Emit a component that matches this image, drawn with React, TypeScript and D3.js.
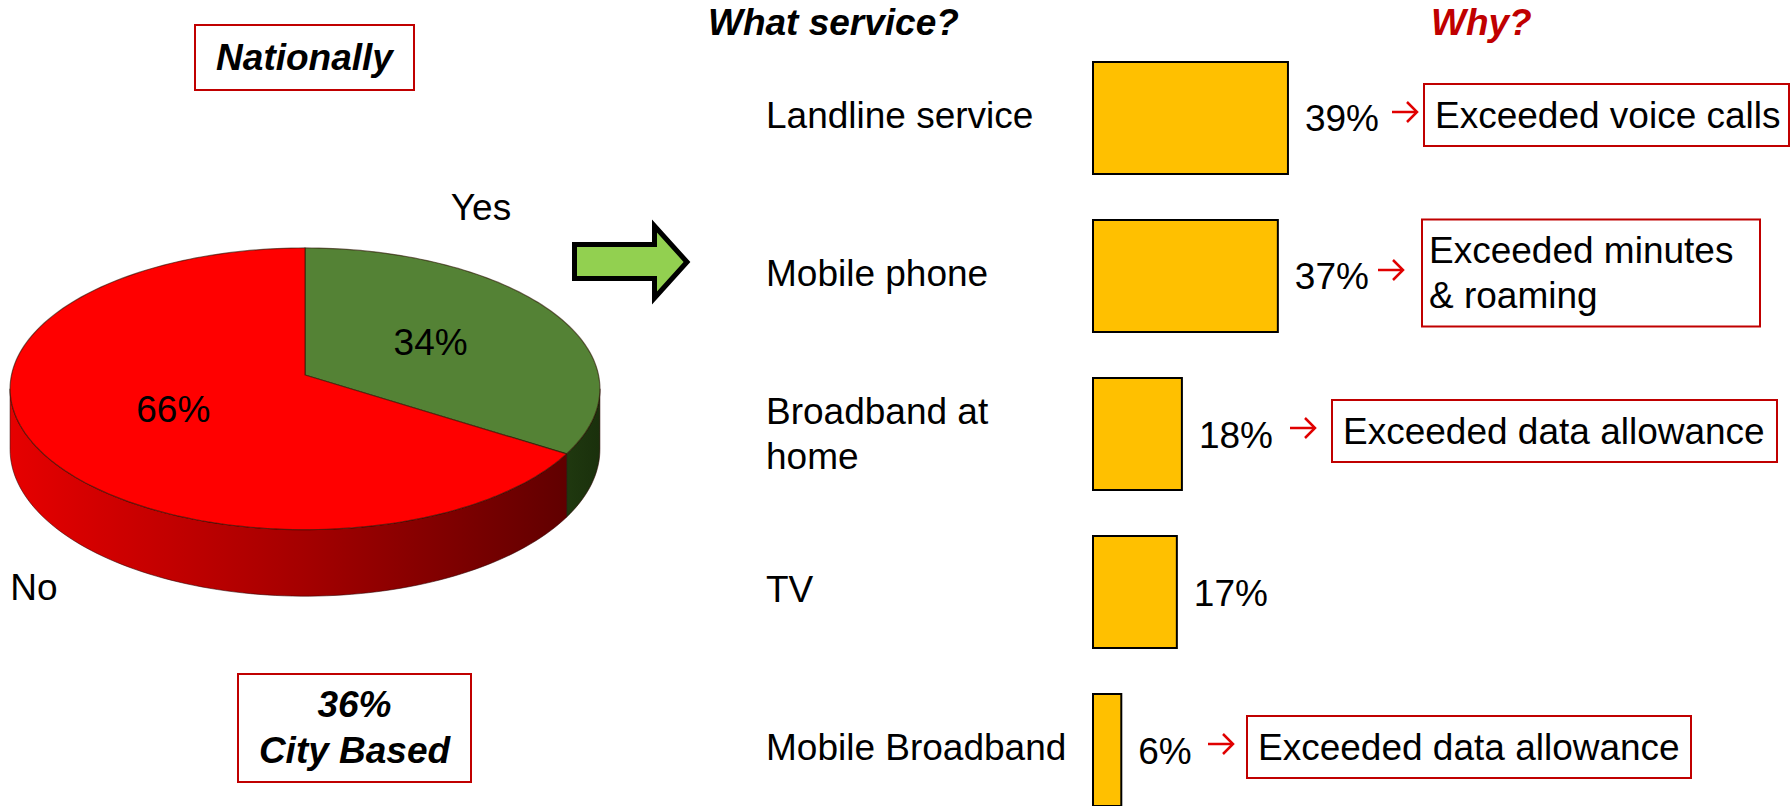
import React from "react";
import * as d3 from "d3";

// ---- data ----
const pieLabels = ["Yes", "No"];
const pieValues = [34, 66];
const cityBasedShare = 36;

const serviceLines = [
  ["Landline service"],
  ["Mobile phone"],
  ["Broadband at", "home"],
  ["TV"],
  ["Mobile Broadband"],
];
const serviceValues = [39, 37, 18, 17, 6];
const reasonLines = [
  ["Exceeded voice calls"],
  ["Exceeded minutes", "& roaming"],
  ["Exceeded data allowance"],
  [],
  ["Exceeded data allowance"],
];

// ---- layout ----
const W = 1791;
const H = 806;
const FONT = "'Liberation Sans', Arial, Helvetica, sans-serif";
const FS = 37;
const RED_LINE = "#C00000";

// perspective pie geometry
const PIE = { cx: 305, cy: 375, rx: 293.5, ry: 139.5, depth: 60, persp: 10.2 };
const pieOuterLabelPos = [
  [481, 220],
  [34, 600],
];

// annotation layout for the reason boxes and red arrows
const noteLayout = [
  { arrowX: 1392, boxX: 1424, boxW: 365 },
  { arrowX: 1378, boxX: 1422, boxW: 338 },
  { arrowX: 1290, boxX: 1332, boxW: 445 },
  null,
  { arrowX: 1208, boxX: 1247, boxW: 444 },
];

const BAR_X0 = 1092;

function project(theta: number, r: number, dz: number): [number, number] {
  const u = r * Math.sin(theta);
  const v = -r * Math.cos(theta);
  const s = PIE.persp / (PIE.persp - v);
  return [PIE.cx + PIE.rx * u * s, PIE.cy + (PIE.ry * v + dz) * s];
}

function arcPoints(a0: number, a1: number, dz: number): [number, number][] {
  const n = Math.max(2, Math.ceil(((a1 - a0) / (Math.PI * 2)) * 240));
  return d3.range(n + 1).map((i) => project(a0 + ((a1 - a0) * i) / n, 1, dz));
}

const ptsToPath = (pts: [number, number][]) =>
  "M" + pts.map((p) => `${p[0].toFixed(2)},${p[1].toFixed(2)}`).join("L") + "Z";

export default function App() {
  const arcs = d3.pie<number>().sort(null)(pieValues);
  const topColors = ["#548235", "#FF0000"];
  const wallFills = ["url(#greenWall)", "url(#redWall)"];

  // visible part of the side wall (silhouette under perspective)
  const visA = Math.acos(-1 / PIE.persp);
  const visB = Math.PI * 2 - visA;

  const walls = arcs
    .map((a, i) => {
      const s = Math.max(a.startAngle, visA);
      const e = Math.min(a.endAngle, visB);
      if (s >= e) return null;
      const top = arcPoints(s, e, 0);
      const bottom = arcPoints(s, e, PIE.depth).reverse();
      return { d: ptsToPath([...top, ...bottom]), fill: wallFills[i], key: i };
    })
    .filter(Boolean) as { d: string; fill: string; key: number }[];

  const tops = arcs.map((a, i) => {
    const pts = [project(0, 0, 0), ...arcPoints(a.startAngle, a.endAngle, 0)];
    return { d: ptsToPath(pts), fill: topColors[i] };
  });

  const inLabels = arcs.map((a) => project((a.startAngle + a.endAngle) / 2, 0.5, 0));

  // bars
  const x = d3.scaleLinear().domain([0, 100]).range([0, 505]);
  const y = d3
    .scaleBand<string>()
    .domain(serviceLines.map((l) => l.join(" ")))
    .range([61, 807])
    .paddingInner(0.2785)
    .paddingOuter(0);
  const bw = y.bandwidth();

  const greenArrow =
    "M574.5,244.5 H654.5 V226 L687,262 L654.5,298 V278.5 H574.5 Z";

  return (
    <svg
      width={W}
      height={H}
      viewBox={`0 0 ${W} ${H}`}
      style={{ position: "absolute", left: 0, top: 0, background: "#fff" }}
      fontFamily={FONT}
    >
      <defs>
        <linearGradient id="redWall" gradientUnits="userSpaceOnUse" x1={10} x2={600} y1={0} y2={0}>
          <stop offset="0" stopColor="#E60000" />
          <stop offset="0.5" stopColor="#A40000" />
          <stop offset="1" stopColor="#580000" />
        </linearGradient>
        <linearGradient id="greenWall" gradientUnits="userSpaceOnUse" x1={540} x2={600} y1={0} y2={0}>
          <stop offset="0" stopColor="#243F12" />
          <stop offset="1" stopColor="#1A300C" />
        </linearGradient>
      </defs>

      {/* Left title box */}
      <rect x={195} y={25} width={219} height={65} fill="none" stroke={RED_LINE} strokeWidth={2} />
      <text x={304.5} y={70} textAnchor="middle" fontSize={FS} fontWeight="bold" fontStyle="italic">
        Nationally
      </text>

      {/* 3D pie */}
      <g>
        {walls.map((w) => (
          <path key={w.key} d={w.d} fill={w.fill} stroke="#2a0000" strokeOpacity={0.55} strokeWidth={1} />
        ))}
        {tops.map((t, i) => (
          <path key={i} d={t.d} fill={t.fill} stroke="#2a1200" strokeOpacity={0.6} strokeWidth={1.2} strokeLinejoin="round" />
        ))}
        {arcs.map((a, i) => (
          <text key={i} x={inLabels[i][0]} y={inLabels[i][1] + 13} textAnchor="middle" fontSize={FS}>
            {`${pieValues[i]}%`}
          </text>
        ))}
        {pieLabels.map((l, i) => (
          <text key={l} x={pieOuterLabelPos[i][0]} y={pieOuterLabelPos[i][1]} textAnchor="middle" fontSize={FS}>
            {l}
          </text>
        ))}
      </g>

      {/* City based box */}
      <rect x={238} y={674} width={233} height={108} fill="none" stroke={RED_LINE} strokeWidth={2} />
      <text x={354.5} y={717} textAnchor="middle" fontSize={FS} fontWeight="bold" fontStyle="italic">
        {`${cityBasedShare}%`}
      </text>
      <text x={354.5} y={763} textAnchor="middle" fontSize={FS} fontWeight="bold" fontStyle="italic">
        City Based
      </text>

      {/* Green connector arrow */}
      <path d={greenArrow} fill="#92D050" stroke="#000" strokeWidth={5} strokeLinejoin="miter" />

      {/* Column headers */}
      <text x={708} y={35} fontSize={FS} fontWeight="bold" fontStyle="italic">
        What service?
      </text>
      <text x={1431} y={35} fontSize={FS} fontWeight="bold" fontStyle="italic" fill={RED_LINE}>
        Why?
      </text>

      {/* Bars */}
      {serviceLines.map((lines, i) => {
        const key = lines.join(" ");
        const y0 = y(key) as number;
        const cyBar = y0 + bw / 2;
        const v = serviceValues[i];
        const barW = x(v);
        const note = noteLayout[i];
        const reason = reasonLines[i];
        return (
          <g key={key}>
            {lines.map((ln, j) => (
              <text key={j} x={766} y={cyBar + 10 - (lines.length - 1) * 20 + j * 45} fontSize={FS}>
                {ln}
              </text>
            ))}
            <rect
              x={BAR_X0 + 1}
              y={y0 + 1}
              width={barW - 2}
              height={bw - 2}
              fill="#FFC000"
              stroke="#000"
              strokeWidth={2}
            />
            <text x={BAR_X0 + barW + 16} y={cyBar + 13.5} fontSize={FS}>
              {`${v}%`}
            </text>
            {note && reason.length > 0 && (
              <g>
                <g stroke="#E00000" strokeWidth={2.5} fill="none" strokeLinecap="butt">
                  <line x1={note.arrowX} x2={note.arrowX + 25} y1={cyBar - 6} y2={cyBar - 6} />
                  <polyline
                    points={`${note.arrowX + 15},${cyBar - 16} ${note.arrowX + 25},${cyBar - 6} ${note.arrowX + 15},${cyBar + 4}`}
                  />
                </g>
                {(() => {
                  const bh = reason.length === 1 ? 62 : 107;
                  const by = cyBar - 3 - bh / 2;
                  return (
                    <g>
                      <rect x={note.boxX} y={by} width={note.boxW} height={bh} fill="#fff" stroke={RED_LINE} strokeWidth={2} />
                      {reason.map((r, j) => (
                        <text
                          key={j}
                          x={note.boxX + (reason.length === 1 ? 11 : 7)}
                          y={by + bh / 2 + 13 - (reason.length - 1) * 22.5 + j * 45}
                          fontSize={FS}
                        >
                          {r}
                        </text>
                      ))}
                    </g>
                  );
                })()}
              </g>
            )}
          </g>
        );
      })}
    </svg>
  );
}
